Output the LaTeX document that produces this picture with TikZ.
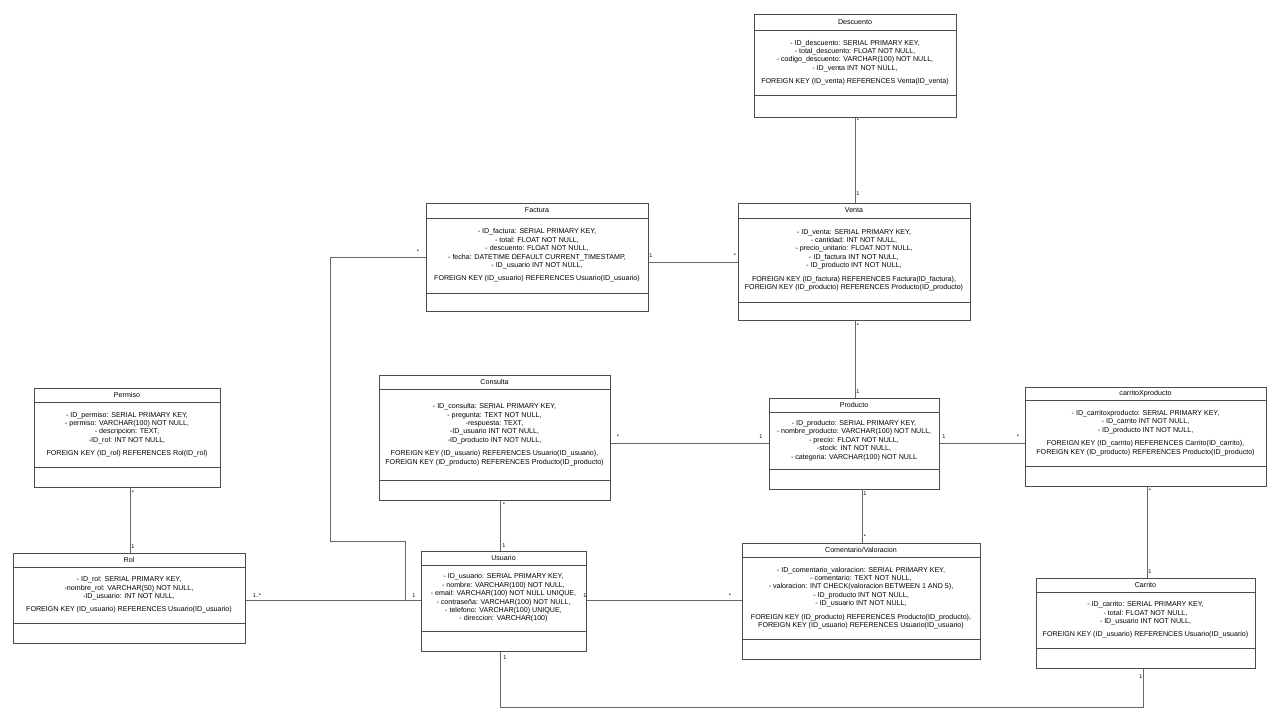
\documentclass[tikz,border=0pt]{standalone}
\usepackage{fontspec}
\setmainfont{Liberation Sans}
\usetikzlibrary{positioning}

\tikzset{
    cls/.style={draw=black!70, line width=0.6pt, fill=white, inner sep=0pt},
    sep/.style={draw=black!70, line width=0.6pt},
    link/.style={draw=black!60, line width=0.6pt},
    attr/.style={align=center, font=\fontsize{7.1}{8.4}\selectfont, inner sep=1pt},
    head/.style={font=\fontsize{7.1}{8}\selectfont, inner sep=1pt},
    mult/.style={font=\fontsize{5.5}{6}\selectfont, inner sep=1pt}
}

% class box: name, x1, y1, x2, y2, title line, attribute line, title, attributes
\newcommand{\umlclass}[9]{
    \node [cls, anchor=north west, minimum width=#4-#2, minimum height=#5-#3] (#1) at (#2, #3) {};
    \draw [sep] (#2, #6) -- (#4, #6);
    \draw [sep] (#2, #7) -- (#4, #7);
    \node [head] (#1-title) at ({(#2+#4)/2}, {(#3+#6)/2}) {#8};
    \node [attr] (#1-attr) at ({(#2+#4)/2}, {(#6+#7)/2}) {#9};
}

\begin{document}
\begin{tikzpicture}[x=1pt, y=-1pt]
    \useasboundingbox (0, 0) rectangle (1280, 722);

    \umlclass{descuento}{754}{14}{956}{117}{30}{95}{Descuento}{- ID\_descuento: SERIAL PRIMARY KEY,\\ - total\_descuento: FLOAT NOT NULL,\\ - codigo\_descuento: VARCHAR(100) NOT NULL,\\ - ID\_venta INT NOT NULL,\\[5pt] FOREIGN KEY (ID\_venta) REFERENCES Venta(ID\_venta)}
    \umlclass{factura}{426}{203}{648}{311}{218}{293}{Factura}{- ID\_factura: SERIAL PRIMARY KEY,\\ - total: FLOAT NOT NULL,\\ - descuento: FLOAT NOT NULL,\\ - fecha: DATETIME DEFAULT CURRENT\_TIMESTAMP,\\ - ID\_usuario INT NOT NULL,\\[5pt] FOREIGN KEY (ID\_usuario) REFERENCES Usuario(ID\_usuario)}
    \umlclass{venta}{738}{203}{970}{320}{218}{302}{Venta}{- ID\_venta: SERIAL PRIMARY KEY,\\ - cantidad: INT NOT NULL,\\ - precio\_unitario: FLOAT NOT NULL,\\ - ID\_factura INT NOT NULL,\\ - ID\_producto INT NOT NULL,\\[5pt] FOREIGN KEY (ID\_factura) REFERENCES Factura(ID\_factura),\\ FOREIGN KEY (ID\_producto) REFERENCES Producto(ID\_producto)}
    \umlclass{permiso}{34}{388}{220}{487}{402}{467}{Permiso}{- ID\_permiso: SERIAL PRIMARY KEY,\\ - permiso: VARCHAR(100) NOT NULL,\\ - descripcion: TEXT,\\ -ID\_rol: INT NOT NULL,\\[5pt] FOREIGN KEY (ID\_rol) REFERENCES Rol(ID\_rol)}
    \umlclass{rol}{13}{553}{245}{643}{567}{623}{Rol}{- ID\_rol: SERIAL PRIMARY KEY,\\ -nombre\_rol: VARCHAR(50) NOT NULL,\\ -ID\_usuario: INT NOT NULL,\\[5pt] FOREIGN KEY (ID\_usuario) REFERENCES Usuario(ID\_usuario)}
    \umlclass{consulta}{379}{375}{610}{500}{389}{480}{Consulta}{- ID\_consulta: SERIAL PRIMARY KEY,\\ - pregunta: TEXT NOT NULL,\\ -respuesta: TEXT,\\ -ID\_usuario INT NOT NULL,\\ -ID\_producto INT NOT NULL,\\[5pt] FOREIGN KEY (ID\_usuario) REFERENCES Usuario(ID\_usuario),\\ FOREIGN KEY (ID\_producto) REFERENCES Producto(ID\_producto)}
    \umlclass{producto}{769}{398}{939}{489}{412}{469}{Producto}{- ID\_producto: SERIAL PRIMARY KEY,\\ - nombre\_producto: VARCHAR(100) NOT NULL,\\ - precio: FLOAT NOT NULL,\\ -stock: INT NOT NULL,\\ - categoria: VARCHAR(100) NOT NULL}
    \umlclass{cxp}{1025}{387}{1266}{486}{400}{466}{carritoXproducto}{- ID\_carritoxproducto: SERIAL PRIMARY KEY,\\ - ID\_carrito INT NOT NULL,\\ - ID\_producto INT NOT NULL,\\[5pt] FOREIGN KEY (ID\_carrito) REFERENCES Carrito(ID\_carrito),\\ FOREIGN KEY (ID\_producto) REFERENCES Producto(ID\_producto)}
    \umlclass{usuario}{421}{551}{586}{651}{565}{631}{Usuario}{- ID\_usuario: SERIAL PRIMARY KEY,\\ - nombre: VARCHAR(100) NOT NULL,\\ - email: VARCHAR(100) NOT NULL UNIQUE,\\ - contraseña: VARCHAR(100) NOT NULL,\\ - telefono: VARCHAR(100) UNIQUE,\\ - direccion: VARCHAR(100)}
    \umlclass{comentario}{742}{543}{980}{659}{557}{639}{Comentario/Valoracion}{- ID\_comentario\_valoracion: SERIAL PRIMARY KEY,\\ - comentario: TEXT NOT NULL,\\ - valoracion: INT CHECK(valoracion BETWEEN 1 AND 5),\\ - ID\_producto INT NOT NULL,\\ - ID\_usuario INT NOT NULL,\\[5pt] FOREIGN KEY (ID\_producto) REFERENCES Producto(ID\_producto),\\ FOREIGN KEY (ID\_usuario) REFERENCES Usuario(ID\_usuario)}
    \umlclass{carrito}{1036}{578}{1255}{668}{592}{648}{Carrito}{- ID\_carrito: SERIAL PRIMARY KEY,\\ - total: FLOAT NOT NULL,\\ - ID\_usuario INT NOT NULL,\\[5pt] FOREIGN KEY (ID\_usuario) REFERENCES Usuario(ID\_usuario)}

    % connectors
    \draw [link] (descuento.south -| 855, 0) -- (venta.north -| 855, 0);
    \node [mult] at (858, 121) {*};
    \node [mult] at (858, 194) {1};
    \draw [link] (factura.east |- 0, 262) -- (venta.west |- 0, 262);
    \node [mult] at (651, 256) {1};
    \node [mult] at (735, 256) {*};
    \draw [link] (venta.south -| 855, 0) -- (producto.north -| 855, 0);
    \node [mult] at (858, 326) {*};
    \node [mult] at (858, 392) {1};
    \draw [link] (consulta.east |- 0, 443) -- (producto.west |- 0, 443);
    \node [mult] at (618, 437) {*};
    \node [mult] at (761, 437) {1};
    \draw [link] (producto.east |- 0, 443) -- (cxp.west |- 0, 443);
    \node [mult] at (944, 437) {1};
    \node [mult] at (1018, 437) {*};
    \draw [link] (producto.south -| 862, 0) -- (comentario.north -| 862, 0);
    \node [mult] at (865, 494) {1};
    \node [mult] at (865, 537) {*};
    \draw [link] (cxp.south -| 1147, 0) -- (carrito.north -| 1147, 0);
    \node [mult] at (1150, 491) {*};
    \node [mult] at (1150, 572) {1};
    \draw [link] (consulta.south -| 500, 0) -- (usuario.north -| 500, 0);
    \node [mult] at (504, 505) {*};
    \node [mult] at (504, 546) {1};
    \draw [link] (permiso.south -| 130, 0) -- (rol.north -| 130, 0);
    \node [mult] at (133, 493) {*};
    \node [mult] at (133, 547) {1};
    \draw [link] (rol.east |- 0, 600) -- (usuario.west |- 0, 600);
    \node [mult] at (257, 596) {1..*};
    \node [mult] at (414, 596) {1};
    \draw [link] (usuario.east |- 0, 600) -- (comentario.west |- 0, 600);
    \node [mult] at (585, 596) {1};
    \node [mult] at (730, 596) {*};
    \draw [link] (factura.west |- 0, 257) -- (330, 257) -- (330, 541) -- (405, 541) -- (405, 600) -- (usuario.west |- 0, 600);
    \node [mult] at (418, 252) {*};
    \draw [link] (usuario.south -| 500, 0) -- (500, 707) -- (1143, 707) -- (carrito.south -| 1143, 0);
    \node [mult] at (505, 658) {1};
    \node [mult] at (1141, 677) {1};
\end{tikzpicture}
\end{document}
